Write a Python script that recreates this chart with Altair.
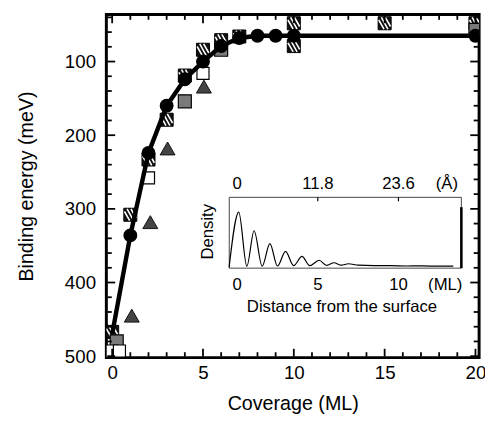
import altair as alt
import pandas as pd

# ---------------- data ----------------
line_cov = [0, 1, 2, 3, 4, 5, 6, 7, 8, 9, 10, 20]
line_be = [470, 336, 224, 160, 124, 100, 79, 68, 65, 65, 65, 65]

circle_cov = [1, 2, 3, 4, 5, 6, 7, 8, 9, 10, 20]
circle_be = [336, 224, 160, 124, 100, 79, 68, 65, 65, 65, 65]

hatched_cov = [0, 1, 2, 3, 4, 5, 6, 7, 10, 10, 15, 20]
hatched_be = [467, 308, 233, 179, 119, 84, 71, 66, 48, 79, 48, 48]

stipple_cov = [0.25, 4, 6, 20]
stipple_be = [480, 154, 84, 57]

open_cov = [0.0, 0.4, 2, 5]
open_be = [493, 493, 258, 116]

tri_cov = [1.08, 2.1, 3.05, 5.05]
tri_be = [445, 318, 218, 134]

x_major = [0, 5, 10, 15, 20]
x_minor = [v for v in range(1, 20) if v % 5 != 0]
y_major = [100, 200, 300, 400, 500]
y_minor = [v for v in range(40, 501, 20) if v % 100 != 0]

# inset: density profile vs distance from the surface (ML)
dens_dist = [-0.5, 0.1, 0.6, 1.05, 1.55, 2.03, 2.5, 3.0, 3.5, 4.02, 4.5, 5.08,
             5.55, 6.0, 6.45, 6.9, 7.5, 8.5, 9.5, 10.5, 11.5, 12.5, 13.4]
dens_val = [0.8, 57, 2, 38, 2, 25, 2.2, 17, 2.5, 12, 2.5, 8,
            2.8, 5.5, 3, 4.5, 3, 2.5, 2.5, 2.2, 2.3, 2.0, 2.0]
inset_box_ml = [-0.49, 13.9]
inset_box_dens = [0, 72]
inset_top_ticks = [5, 10]
inset_top_labels = ["0", "11.8", "23.6", "(Å)"]
inset_top_pos = [0, 5, 10, 13.0]
inset_bot_labels = ["0", "5", "10", "(ML)"]
inset_bot_pos = [0, 5, 10, 12.9]

W, H = 379, 349
FONT = "Liberation Sans"
XDOM = [-0.32, 20.2]
YDOM = [36, 502]
KX = (XDOM[1] - XDOM[0]) / W   # data units per pixel
KY = (YDOM[1] - YDOM[0]) / H

X = alt.X("cov:Q",
          scale=alt.Scale(domain=XDOM, nice=False, zero=False),
          axis=alt.Axis(values=x_major, ticks=False, domain=False, grid=False,
                        labelFontSize=19, labelPadding=6, labelFont=FONT,
                        labelColor="black", titleColor="black",
                        title="Coverage (ML)", titleFont=FONT, titleFontSize=20,
                        titleFontWeight="normal", titlePadding=12))
Y = alt.Y("be:Q",
          scale=alt.Scale(domain=YDOM, reverse=True, nice=False, zero=False),
          axis=alt.Axis(values=y_major, ticks=False, domain=False, grid=False,
                        labelFontSize=19, labelPadding=11, labelFont=FONT,
                        labelColor="black", titleColor="black",
                        title="Binding energy (meV)", titleFont=FONT, titleFontSize=20,
                        titleFontWeight="normal", titlePadding=28))
X2 = alt.X2("cov2:Q")
Y2 = alt.Y2("be2:Q")

def df(c, b):
    return pd.DataFrame({"cov": c, "be": b})

hatched = alt.Chart(df(hatched_cov, hatched_be)).mark_point(
    shape="square", filled=True, size=175, color="#111", stroke="black",
    strokeWidth=1, opacity=1, clip=True).encode(x=X, y=Y)
stripes = alt.Chart(df(hatched_cov, hatched_be)).mark_point(
    shape="M-0.9,-0.5L-0.1,0.9M-0.5,-0.9L0.5,0.9M0.1,-0.9L0.9,0.5",
    filled=False, size=175, stroke="white", strokeWidth=1.6, opacity=1,
    clip=True).encode(x=X, y=Y)
stipple = alt.Chart(df(stipple_cov, stipple_be)).mark_point(
    shape="square", filled=True, size=175, fill="#7a7a7a", stroke="black",
    strokeWidth=1.2, opacity=1, clip=True).encode(x=X, y=Y)
opensq = alt.Chart(df(open_cov, open_be)).mark_point(
    shape="square", filled=True, size=150, fill="white", stroke="black",
    strokeWidth=1.2, opacity=1, clip=True).encode(x=X, y=Y)
tri = alt.Chart(df(tri_cov, tri_be)).mark_point(
    shape="triangle-up", filled=True, size=230, fill="#444", stroke="#111",
    strokeWidth=1, opacity=1, clip=True).encode(x=X, y=Y)
line = alt.Chart(df(line_cov, line_be)).mark_line(
    color="black", strokeWidth=4.5, clip=True).encode(x=X, y=Y)
circles = alt.Chart(df(circle_cov, circle_be)).mark_point(
    shape="circle", filled=True, size=200, color="black", opacity=1,
    clip=True).encode(x=X, y=Y)

# inward ticks on all four sides: short rules that start just inside the frame
IN = 1.0  # pixels inside the frame edge where a tick starts

def xticks(vals, L):
    n = len(vals)
    bot = pd.DataFrame({"cov": vals, "be": [YDOM[1] - IN * KY] * n,
                        "be2": [YDOM[1] - (IN + L) * KY] * n})
    top = pd.DataFrame({"cov": vals, "be": [YDOM[0] + IN * KY] * n,
                        "be2": [YDOM[0] + (IN + L) * KY] * n})
    return [alt.Chart(d).mark_rule(color="black", strokeWidth=1.8).encode(x=X, y=Y, y2=Y2)
            for d in (bot, top)]

def yticks(vals, L):
    n = len(vals)
    lef = pd.DataFrame({"be": vals, "cov": [XDOM[0] + IN * KX] * n,
                        "cov2": [XDOM[0] + (IN + L) * KX] * n})
    rig = pd.DataFrame({"be": vals, "cov": [XDOM[1] - IN * KX] * n,
                        "cov2": [XDOM[1] - (IN + L) * KX] * n})
    return [alt.Chart(d).mark_rule(color="black", strokeWidth=1.8).encode(y=Y, x=X, x2=X2)
            for d in (lef, rig)]

ticks = xticks(x_major, 8) + xticks(x_minor, 4.5) + yticks(y_major, 8) + yticks(y_minor, 4.5)

main = alt.layer(hatched, stripes, stipple, opensq, tri, line, circles, *ticks)

# ---------------- inset ----------------
IX = alt.X("d:Q", scale=alt.Scale(domain=[0, 10], range=[133, 297], nice=False, zero=False), axis=None)
IY = alt.Y("p:Q", scale=alt.Scale(domain=[0, 72], range=[258, 186], nice=False, zero=False), axis=None)
IX2 = alt.X2("d2:Q")
IY2 = alt.Y2("p2:Q")

box_df = pd.DataFrame({"d": [inset_box_ml[0]], "d2": [inset_box_ml[1]],
                       "p": [inset_box_dens[0]], "p2": [inset_box_dens[1]]})
box = alt.Chart(box_df).mark_rect(fill="white", stroke="#444", strokeWidth=1).encode(
    x=IX, x2=IX2, y=IY, y2=IY2)
right_bar = alt.Chart(pd.DataFrame({"d": [inset_box_ml[1]], "p": [0], "p2": [62]})).mark_rule(
    color="black", strokeWidth=2.6).encode(x=IX, y=IY, y2=IY2)
itick = alt.Chart(pd.DataFrame({"d": inset_top_ticks, "p": [72] * 2, "p2": [68] * 2})).mark_rule(
    color="black", strokeWidth=1.2).encode(x=IX, y=IY, y2=IY2)
curve = alt.Chart(pd.DataFrame({"d": dens_dist, "p": dens_val})).mark_line(
    color="black", strokeWidth=1.2, interpolate="monotone").encode(x=IX, y=IY)

top_lab = alt.Chart(pd.DataFrame({"d": inset_top_pos, "t": inset_top_labels})).mark_text(
    fontSize=17, font=FONT, color="black", baseline="middle").encode(
    x=IX, y=alt.value(173), text="t:N")
bot_lab = alt.Chart(pd.DataFrame({"d": inset_bot_pos, "t": inset_bot_labels})).mark_text(
    fontSize=17, font=FONT, color="black", baseline="middle").encode(
    x=IX, y=alt.value(275), text="t:N")
xtitle = alt.Chart(pd.DataFrame({"d": [6.5], "t": ["Distance from the surface"]})).mark_text(
    fontSize=17, font=FONT, color="black", baseline="middle").encode(
    x=IX, y=alt.value(298), text="t:N")
ytitle = alt.Chart(pd.DataFrame({"d": [-1.83], "p": [37], "t": ["Density"]})).mark_text(
    fontSize=17, font=FONT, color="black", baseline="middle", angle=270).encode(
    x=IX, y=IY, text="t:N")

inset = alt.layer(box, curve, right_bar, itick, top_lab, bot_lab, xtitle, ytitle)

chart = alt.layer(main, inset).resolve_scale(x="independent", y="independent").properties(
    width=W, height=H,
    autosize=alt.AutoSizeParams(type="none"),
    padding={"left": 100, "top": 3, "right": 6, "bottom": 67},
).configure_view(stroke="black", strokeWidth=3)

chart.save("out.html", embed_options={"renderer": "svg", "actions": False})
